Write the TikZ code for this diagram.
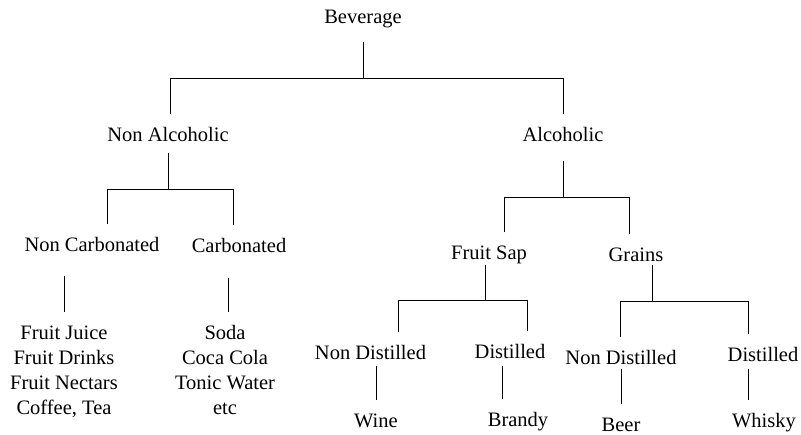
\documentclass[tikz,border=0pt]{standalone}
\usepackage{fontspec}
\setmainfont{Liberation Serif}
\usepackage{tikz}
\usetikzlibrary{positioning,calc}

\begin{document}
\begin{tikzpicture}[x=1pt, y=1pt, line width=1pt, every node/.style={font=\fontsize{20.5}{25}\selectfont},
        lbl/.style={inner xsep=0pt, inner ysep=7pt, text height=20pt, text depth=4pt, anchor=base},
        lst/.style={inner xsep=0pt, inner ysep=13pt, align=center, anchor=north}]
        \useasboundingbox (0,0) rectangle (801,-435);
        % level 0 and 1
        \node[lbl] (bev) at (363,-24) {Beverage};
        \node[lbl] (nonalc) at (168,-142) {Non Alcoholic};
        \node[lbl] (alc) at (563,-142) {Alcoholic};
        % non alcoholic side
        \node[lbl] (noncarb) at (92,-252) {Non Carbonated};
        \node[lbl] (carb) at (239,-253) {Carbonated};
        \node[lst] (juices) at (64,-312) {Fruit Juice\\Fruit Drinks\\Fruit Nectars\\Coffee, Tea};
        \node[lst] (sodas) at (225,-312) {Soda\\Coca Cola\\Tonic Water\\etc};
        % alcoholic side
        \node[lbl] (fruitsap) at (489,-260) {Fruit Sap};
        \node[lbl] (grains) at (636,-262) {Grains};
        \node[lbl] (nondistA) at (370.5,-360) {Non Distilled};
        \node[lbl] (distA) at (510,-359) {Distilled};
        \node[lbl] (nondistB) at (621,-365) {Non Distilled};
        \node[lbl] (distB) at (763,-362) {Distilled};
        \node[lbl] (wine) at (376,-428) {Wine};
        \node[lbl] (brandy) at (518,-427) {Brandy};
        \node[lbl] (beer) at (621,-432) {Beer};
        \node[lbl] (whisky) at (764,-428) {Whisky};
        % connectors
        \draw ([yshift=-7pt]bev.south) -- ++(0,-36) coordinate (j1);
        \draw ([xshift=2pt]nonalc.north) |- (j1) -| (alc.north);
        \draw (nonalc.south) -- ++(0,-36) coordinate (j2);
        \draw ([xshift=15pt]noncarb.north) |- (j2) -| ([xshift=-6pt]carb.north);
        \draw ([yshift=-8pt]alc.south) -- ++(0,-36) coordinate (j3);
        \draw ([xshift=15pt]fruitsap.north) |- (j3) -| ([xshift=-7pt]grains.north);
        \draw ([xshift=-4pt,yshift=6pt]fruitsap.south) -- ++(0,-35) coordinate (j4);
        \draw ([xshift=28pt]nondistA.north) |- (j4) -| ([xshift=17pt]distA.north);
        \draw ([xshift=16pt,yshift=8pt]grains.south) -- ++(0,-36) coordinate (j5);
        \draw ([xshift=-1pt]nondistB.north) |- (j5) -| ([xshift=-15pt]distB.north);
        \draw ([yshift=-13pt]noncarb.south -| juices.north) -- (juices.north);
        \draw ([xshift=3pt,yshift=-14pt]carb.south -| sodas.north) -- ([xshift=3pt]sodas.north);
        \draw ([yshift=5pt]nondistA.south -| wine.north) -- (wine.north);
        \draw ([xshift=-16pt,yshift=4pt]distA.south -| brandy.north) -- ([xshift=-16pt]brandy.north);
        \draw ([yshift=7pt]nondistB.south -| beer.north) -- (beer.north);
        \draw ([xshift=-16pt,yshift=4pt]distB.south -| whisky.north) -- ([xshift=-16pt]whisky.north);
\end{tikzpicture}
\end{document}
